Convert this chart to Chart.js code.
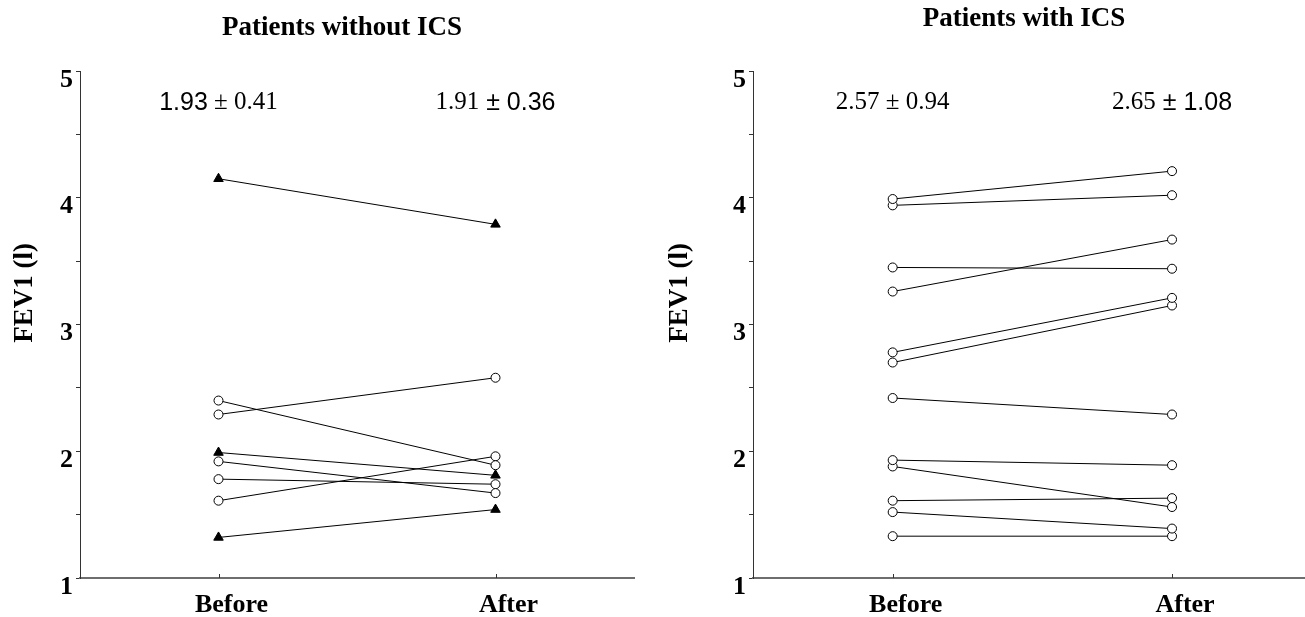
<!DOCTYPE html>
<html>
<head>
<meta charset="utf-8">
<script src="https://cdn.jsdelivr.net/npm/chart.js@4.4.1/dist/chart.umd.min.js"></script>
<style>
  html, body { margin: 0; padding: 0; background: #fff; overflow: hidden; width: 1305px; height: 617px; }
  canvas { position: absolute; top: 0; }
  #leftChart { left: 0; }
  #rightChart { left: 650px; }
</style>
</head>
<body>
<canvas id="leftChart" width="650" height="617"></canvas>
<canvas id="rightChart" width="670" height="617"></canvas>
<script>
const timepoints = ['Before', 'After'];
const yAxisTitle = 'FEV1 (l)';

// patients without ICS, one entry per patient
const noIcsBefore = [4.15, 2.40, 2.29, 1.99, 1.92, 1.78, 1.61, 1.32];
const noIcsAfter  = [3.79, 1.89, 2.58, 1.81, 1.67, 1.74, 1.96, 1.54];
const noIcsMarker = ['triangle', 'circle', 'circle', 'triangle', 'circle', 'circle', 'circle', 'triangle'];
const noIcsStats  = [
    [['1.93', 'sans'], [' \u00b1 0.41', 'serif']],
    [['1.91', 'serif'], [' \u00b1 0.36', 'sans']]
];

// patients with ICS
const icsBefore = [3.99, 3.94, 3.45, 3.26, 2.78, 2.70, 2.42, 1.93, 1.88, 1.61, 1.52, 1.33];
const icsAfter  = [4.21, 4.02, 3.44, 3.67, 3.21, 3.15, 2.29, 1.89, 1.56, 1.63, 1.39, 1.33];
const icsMarker = icsBefore.map(() => 'circle');
const icsStats  = [
    [['2.57 \u00b1 0.94', 'serif']],
    [['2.65', 'serif'], [' \u00b1 1.08', 'sans']]
];

const fonts = { serif: 'Liberation Serif', sans: 'Liberation Sans' };

// axis title, upward x ticks and the mean ± sd text
const figureDecor = {
    id: 'figureDecor',
    afterDraw(chart, args, opts) {
        const { ctx, chartArea } = chart;
        const x = chart.scales.x;
        const y = chart.scales.y;
        ctx.save();
        ctx.strokeStyle = '#333';
        ctx.lineWidth = 1;
        x.ticks.forEach(t => {
            const px = Math.round(x.getPixelForValue(t.value)) + 0.5;
            ctx.beginPath();
            ctx.moveTo(px, chartArea.bottom);
            ctx.lineTo(px, chartArea.bottom - 4);
            ctx.stroke();
        });

        ctx.fillStyle = '#000';
        ctx.textBaseline = 'middle';
        ctx.textAlign = 'left';
        opts.stats.forEach((parts, i) => {
            let total = 0;
            parts.forEach(p => {
                ctx.font = '25px "' + fonts[p[1]] + '"';
                total += ctx.measureText(p[0]).width;
            });
            let cx = x.getPixelForValue(i + 1) - total / 2;
            const cy = y.getPixelForValue(4.75);
            parts.forEach(p => {
                ctx.font = '25px "' + fonts[p[1]] + '"';
                ctx.fillText(p[0], cx, cy);
                cx += ctx.measureText(p[0]).width;
            });
        });

        ctx.font = 'bold 27px "Liberation Serif"';
        ctx.textAlign = 'center';
        ctx.translate(opts.titleX, y.getPixelForValue(3.25));
        ctx.rotate(-Math.PI / 2);
        ctx.fillText(yAxisTitle, 0, 0);
        ctx.restore();
    }
};

function makeChart(id, title, before, after, markers, stats, opts) {
    const datasets = before.map((b, i) => ({
        data: [{ x: 1, y: b }, { x: 2, y: after[i] }],
        showLine: true,
        borderColor: '#000',
        borderWidth: 1,
        pointStyle: markers[i],
        pointRadius: markers[i] === 'triangle' ? 5.5 : 4.5,
        pointBorderWidth: 1,
        pointBorderColor: '#000',
        pointBackgroundColor: markers[i] === 'triangle' ? '#000' : '#fff'
    }));

    return new Chart(document.getElementById(id), {
        type: 'scatter',
        data: { datasets },
        plugins: [figureDecor],
        options: {
            responsive: false,
            animation: false,
            layout: { padding: { left: opts.padLeft, right: opts.padRight, top: 0, bottom: 0 } },
            plugins: {
                legend: { display: false },
                tooltip: { enabled: false },
                title: {
                    display: true,
                    text: title,
                    color: '#000',
                    font: { family: 'Liberation Serif', size: 27, weight: 'bold', lineHeight: 1.2 },
                    padding: { top: opts.titleTop, bottom: opts.titleBottom }
                },
                figureDecor: { stats, titleX: opts.titleX }
            },
            scales: {
                x: {
                    type: 'linear',
                    min: 0.5,
                    max: opts.xMax,
                    afterBuildTicks: s => { s.ticks = timepoints.map((_, i) => ({ value: i + 1 })); },
                    afterFit: s => { s.height = 39; },
                    grid: { drawOnChartArea: false, drawTicks: false },
                    border: { color: '#6e6e6e', width: 2 },
                    ticks: {
                        callback: v => timepoints[v - 1],
                        color: '#000',
                        font: { family: 'Liberation Serif', size: 26, weight: 'bold' },
                        padding: 12,
                        labelOffset: 13,
                        maxRotation: 0,
                        autoSkip: false
                    }
                },
                y: {
                    min: 1,
                    max: 5,
                    afterFit: s => { s.width = opts.yWidth; },
                    grid: { drawOnChartArea: false, drawTicks: true, tickLength: 4, color: '#333' },
                    border: { color: '#333', width: 1 },
                    ticks: {
                        stepSize: 0.5,
                        autoSkip: false,
                        callback: v => Number.isInteger(v) ? String(v) : '',
                        color: '#000',
                        font: { family: 'Liberation Serif', size: 26, weight: 'bold' },
                        padding: 3,
                        labelOffset: 9
                    }
                }
            }
        }
    });
}

makeChart('leftChart', 'Patients without ICS', noIcsBefore, noIcsAfter, noIcsMarker, noIcsStats,
    { padLeft: 50, padRight: 16, yWidth: 30, xMax: 2.5, titleTop: 11.8, titleBottom: 26.8, titleX: 25 });
makeChart('rightChart', 'Patients with ICS', icsBefore, icsAfter, icsMarker, icsStats,
    { padLeft: 78, padRight: 0, yWidth: 25, xMax: 2.51, titleTop: 2.8, titleBottom: 35.8, titleX: 30 });
</script>
</body>
</html>
